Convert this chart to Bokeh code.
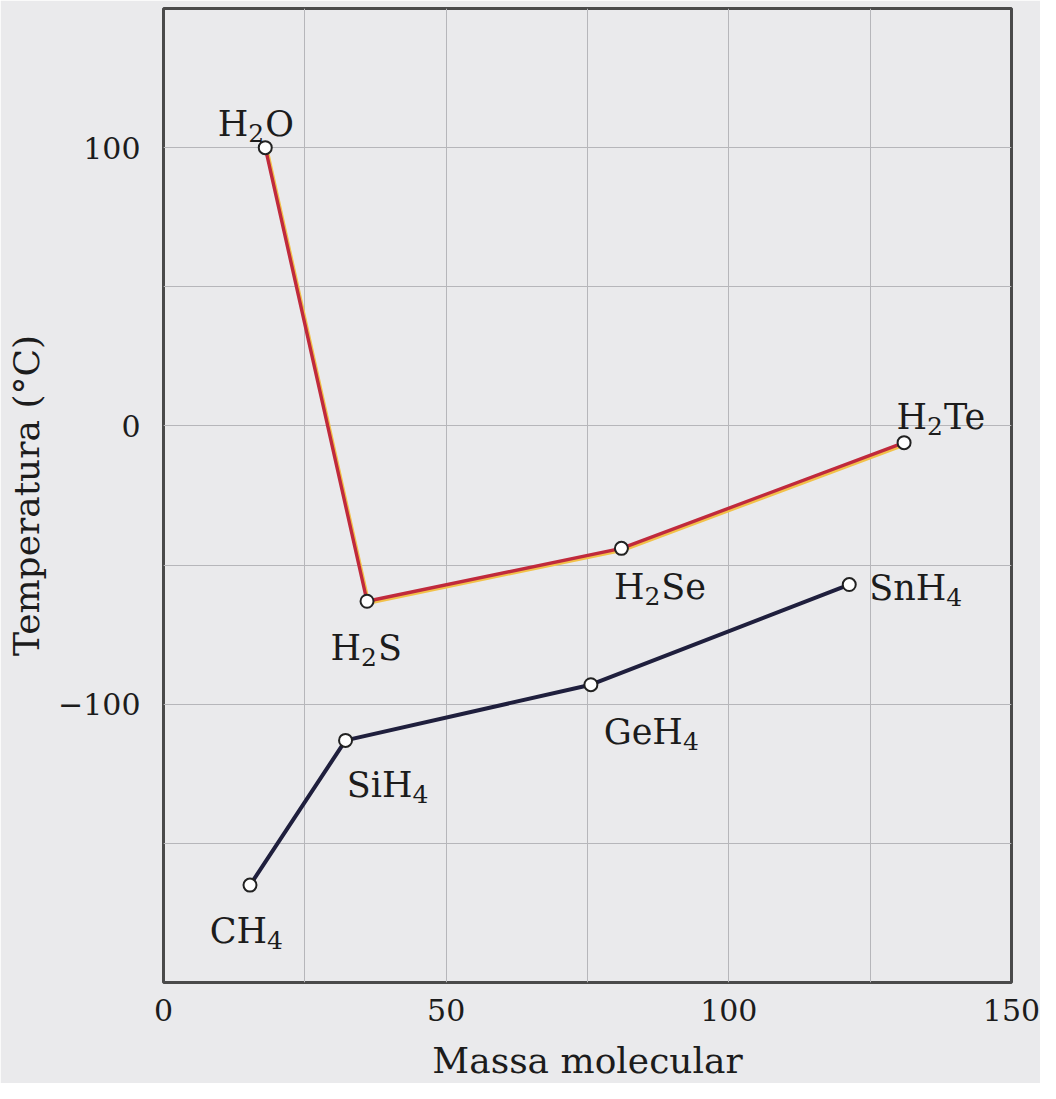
import re
from bokeh.plotting import figure
from bokeh.models import ColumnDataSource, Range1d, FixedTicker
from bokeh.core.properties import value, field
from bokeh.embed import file_html
from bokeh.resources import INLINE

# ---- data ----
g16_names = ["H2O", "H2S", "H2Se", "H2Te"]
g16_mass = [18, 36, 81, 131]
g16_bp = [100, -63, -44, -6]

g14_names = ["CH4", "SiH4", "GeH4", "SnH4"]
g14_mass = [15.3, 32.2, 75.6, 121.3]
g14_bp = [-165, -113, -93, -57]

x_ticks = [0, 50, 100, 150]
y_ticks = [-100, 0, 100]
x_grid = [25, 50, 75, 100, 125]
y_grid = [-150, -100, -50, 0, 50, 100]

# ---- label placement (style): subscript start offset and baseline offset, px ----
g16_sub_dx = [-17, -6, 23, 23]
g16_dy = [-24, 47, 39, -26]
g14_sub_dx = [17, 67, 92, 97]
g14_dy = [46, 45, 47, 3]

BG = "#eaeaec"
INK = "#1c1c1c"
FONT = "DejaVu Serif"
MAIN_PX = 35
SUB_PX = 25
SUB_W = 0.636 * SUB_PX + 1
SUB_DROP = 9

p = figure(width=1040, height=1083,
           x_range=Range1d(0, 150), y_range=Range1d(-200, 150),
           output_backend="svg", toolbar_location=None,
           min_border_left=163, min_border_right=29,
           min_border_top=8, min_border_bottom=98)

p.background_fill_color = BG
p.border_fill_color = BG
p.outline_line_color = "#4a4a4a"
p.outline_line_width = 3

# grid
p.xgrid.ticker = FixedTicker(ticks=x_grid)
p.ygrid.ticker = FixedTicker(ticks=y_grid)
for g in (p.xgrid, p.ygrid):
    g.grid_line_color = "#b6b6ba"
    g.grid_line_width = 1

# axes
p.xaxis.ticker = FixedTicker(ticks=x_ticks)
p.yaxis.ticker = FixedTicker(ticks=y_ticks)
p.yaxis.major_label_overrides = {-100: "\u2212100"}
p.xaxis.axis_label = "Massa molecular"
p.yaxis.axis_label = "Temperatura (\u00b0C)"
for ax in (p.xaxis, p.yaxis):
    ax.axis_line_color = None
    ax.major_tick_line_color = None
    ax.minor_tick_line_color = None
    ax.major_label_text_font = FONT
    ax.major_label_text_font_size = "30px"
    ax.major_label_text_color = INK
    ax.axis_label_text_font = FONT
    ax.axis_label_text_font_size = "36px"
    ax.axis_label_text_font_style = "normal"
    ax.axis_label_text_color = INK
p.xaxis.major_label_standoff = 10
p.yaxis.major_label_standoff = 17
p.xaxis.axis_label_standoff = 16
p.yaxis.axis_label_standoff = 8

# shifted ranges for the yellow edge of the red line
p.extra_x_ranges = {"shift": Range1d(-0.28, 149.72)}
p.extra_y_ranges = {"shift": Range1d(-199.4, 150.6)}

s16 = ColumnDataSource(dict(x=g16_mass, y=g16_bp))
s14 = ColumnDataSource(dict(x=g14_mass, y=g14_bp))

p.line("x", "y", source=s16, line_color="#f2c14a", line_width=3.5,
       x_range_name="shift", y_range_name="shift")
p.line("x", "y", source=s16, line_color="#c02a3c", line_width=3.4)
p.line("x", "y", source=s14, line_color="#1f1f3d", line_width=4)

for s in (s16, s14):
    p.scatter("x", "y", source=s, marker="circle", size=13,
              fill_color="white", line_color="#222222", line_width=2)

# labels with real subscripts: prefix | subscript digit | suffix
lx, ly, pre, sub, suf, adx, ady = [], [], [], [], [], [], []
for names, xs, ys, sdx, sdy in ((g16_names, g16_mass, g16_bp, g16_sub_dx, g16_dy),
                                (g14_names, g14_mass, g14_bp, g14_sub_dx, g14_dy)):
    for n, xv, yv, dx, dy in zip(names, xs, ys, sdx, sdy):
        a, b, c = re.match(r"^(\D*)(\d)(\D*)$", n).groups()
        lx.append(xv); ly.append(yv)
        pre.append(a); sub.append(b); suf.append(c)
        adx.append(dx); ady.append(dy)

lab = ColumnDataSource(dict(
    x=lx, y=ly, pre=pre, sub=sub, suf=suf,
    dx_pre=adx, dx_sub=adx, dx_suf=[d + SUB_W for d in adx],
    dy_main=ady, dy_sub=[d + SUB_DROP for d in ady]))

p.text("x", "y", text="pre", source=lab, text_font=value(FONT),
       text_font_size=f"{MAIN_PX}px", text_color=INK, text_align="right",
       text_baseline="alphabetic", x_offset=field("dx_pre"), y_offset=field("dy_main"))
p.text("x", "y", text="sub", source=lab, text_font=value(FONT),
       text_font_size=f"{SUB_PX}px", text_color=INK, text_align="left",
       text_baseline="alphabetic", x_offset=field("dx_sub"), y_offset=field("dy_sub"))
p.text("x", "y", text="suf", source=lab, text_font=value(FONT),
       text_font_size=f"{MAIN_PX}px", text_color=INK, text_align="left",
       text_baseline="alphabetic", x_offset=field("dx_suf"), y_offset=field("dy_main"))

open("out.html", "w").write(file_html(p, INLINE))
